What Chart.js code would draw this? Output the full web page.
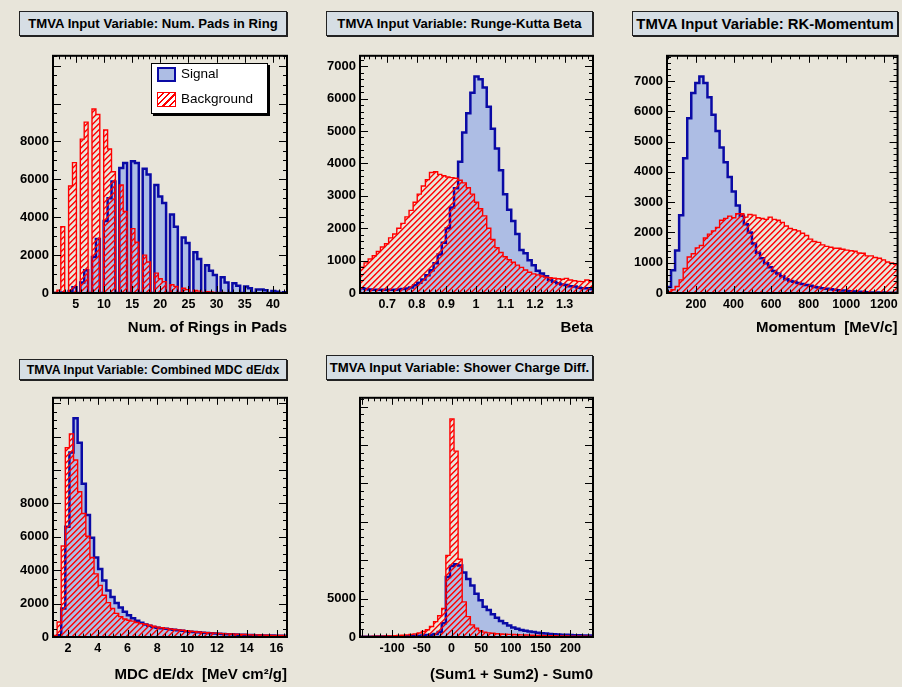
<!DOCTYPE html>
<html lang="en">
<head>
<meta charset="UTF-8">
<title>TMVA Input Variables</title>
<script src="https://cdn.jsdelivr.net/npm/chart.js"></script>
<style>
    html, body { margin: 0; padding: 0; }
    body {
        width: 902px; height: 687px; overflow: hidden; position: relative;
        background: #e8e5da;
        font-family: "Liberation Sans", Arial, Helvetica, sans-serif;
    }
    canvas { position: absolute; }
    /* ROOT style title boxes */
    .title-box {
        position: absolute; box-sizing: border-box;
        background: #d6dee4; border: 1px solid #222; box-shadow: 1px 1px 0 #222;
        display: flex; align-items: center; justify-content: center;
        font-weight: bold; color: #000; white-space: nowrap;
    }
    .legend {
        position: absolute; box-sizing: border-box; background: #fff;
        border: 1px solid #000; box-shadow: 2px 2px 0 #000;
        font-size: 13.5px; color: #000;
    }
    .legend .sw { position: absolute; width: 19px; height: 15px; box-sizing: border-box; }
    .legend .sig { background: #adbde4; border: 2px solid #0a0aa5; }
    .legend .bkg { border: 1px solid #f00;
        background: repeating-linear-gradient(135deg, transparent 0 3px, #f00 3px 4.5px); }
    .legend span { position: absolute; line-height: 16px; }
</style>
</head>
<body>
<div class="title-box" id="t1" style="left:19px;top:11px;width:268px;height:25px">TMVA Input Variable: Num. Pads in Ring</div>
<div class="title-box" id="t2" style="left:326px;top:11px;width:267px;height:25px">TMVA Input Variable: Runge-Kutta Beta</div>
<div class="title-box" id="t3" style="left:632px;top:11px;width:266px;height:25px">TMVA Input Variable: RK-Momentum</div>
<div class="title-box" id="t4" style="left:19px;top:359px;width:268px;height:21px">TMVA Input Variable: Combined MDC dE/dx</div>
<div class="title-box" id="t5" style="left:326px;top:355px;width:267px;height:25px">TMVA Input Variable: Shower Charge Diff.</div>

<canvas id="c1" width="300" height="301" style="left:0;top:44px"></canvas>
<canvas id="c2" width="300" height="301" style="left:307px;top:44px"></canvas>
<canvas id="c3" width="288" height="301" style="left:614px;top:44px"></canvas>
<canvas id="c4" width="300" height="301" style="left:0;top:386px"></canvas>
<canvas id="c5" width="300" height="301" style="left:307px;top:386px"></canvas>

<div class="legend" style="left:151px;top:63px;width:117px;height:51px">
    <div class="sw sig" style="left:5px;top:3px"></div><span style="left:29px;top:2px">Signal</span>
    <div class="sw bkg" style="left:5px;top:28px"></div><span style="left:29px;top:27px">Background</span>
</div>

<script>
// ---- histogram data (bin contents, equal-width bins over each range) ----
const padsRange = [0.95, 42.5];
const padsSignal = [0, 0, 20, 0, 100, 300, 0, 550, 1200, 0,
    1900, 2850, 0, 3800, 5000, 5880, 0, 6600, 6860, 0,
    6950, 6860, 0, 6560, 6250, 0, 5700, 5100, 4750, 0,
    4150, 3500, 0, 2930, 2640, 0, 2150, 1800, 0, 1470,
    1170, 950, 0, 830, 550, 0, 520, 380, 0, 340,
    255, 0, 190, 190, 150, 0, 100, 60, 0, 40];
const padsBackground = [30, 150, 3500, 0, 5650, 6880, 0, 8120, 9020, 0,
    9710, 9420, 0, 8600, 7600, 6400, 0, 5700, 4300, 0,
    3400, 2680, 0, 2000, 1640, 0, 1050, 750, 600, 0,
    440, 350, 0, 250, 180, 0, 130, 100, 0, 70,
    50, 35, 0, 25, 20, 0, 15, 10, 0, 8,
    5, 0, 4, 3, 2, 0, 1, 1, 0, 0];

const betaRange = [0.608, 1.396];
const betaSignal = [150, 120, 110, 100, 100, 100, 100, 100, 100, 110,
    120, 140, 170, 240, 320, 420, 550, 700, 920, 1190,
    1550, 2000, 2640, 3230, 4050, 4950, 5550, 6180, 6680, 6600,
    6340, 5750, 5070, 4460, 3790, 3050, 2570, 2220, 1820, 1330,
    1230, 1010, 860, 690, 600, 520, 400, 350, 300, 260,
    250, 210, 200, 160, 150, 150, 120];
const betaBackground = [800, 930, 1050, 1150, 1280, 1420, 1520, 1700, 1820, 2000,
    2150, 2350, 2550, 2800, 3050, 3300, 3500, 3720, 3740, 3660,
    3620, 3580, 3560, 3540, 3480, 3400, 3250, 3050, 2800, 2600,
    2380, 2000, 1650, 1400, 1250, 1120, 1030, 950, 860, 790,
    710, 640, 590, 560, 525, 490, 470, 455, 440, 425,
    450, 400, 380, 360, 350, 400, 350];

const momRange = [46, 1273];
const momSignal = [200, 750, 1400, 2570, 4450, 5770, 6600, 6930, 7150, 6930,
    6460, 5885, 5345, 4805, 4320, 3830, 3350, 2890, 2550, 2270,
    2000, 1630, 1330, 1150, 980, 850, 730, 640, 550, 450,
    400, 370, 330, 300, 260, 238, 200, 180, 160, 140,
    120, 108, 90, 80, 70, 55, 50, 40, 30, 25,
    20, 20, 15, 15, 10, 10, 10];
const momBackground = [40, 108, 216, 432, 810, 1188, 1296, 1490, 1566, 1814,
    1944, 2052, 2160, 2400, 2462, 2538, 2484, 2614, 2614, 2506,
    2592, 2570, 2484, 2462, 2430, 2506, 2430, 2400, 2330, 2210,
    2130, 2090, 2050, 1970, 1900, 1780, 1700, 1670, 1590, 1540,
    1510, 1475, 1475, 1445, 1415, 1395, 1380, 1320, 1310, 1225,
    1225, 1170, 1145, 1095, 1025, 990, 950];

const dedxRange = [1.0, 16.7];
const dedxSignal = [0, 100, 1700, 6600, 11050, 13100, 11640, 9180, 7310, 5940,
    4760, 4070, 3380, 2790, 2400, 2040, 1770, 1510, 1310, 1120,
    980, 850, 750, 670, 600, 550, 520, 490, 460, 430,
    400, 380, 350, 320, 300, 280, 260, 240, 225, 210,
    195, 180, 170, 160, 150, 140, 130, 125, 120, 110,
    100, 95, 90, 85, 80, 75, 70];
const dedxBackground = [100, 900, 5450, 11340, 12170, 10600, 8700, 7400, 6040, 4760,
    3780, 3090, 2500, 2060, 1710, 1415, 1220, 1080, 1000, 950,
    870, 800, 760, 700, 640, 590, 550, 515, 485, 455,
    425, 400, 370, 345, 320, 300, 280, 260, 245, 230,
    215, 200, 190, 180, 170, 160, 150, 140, 130, 125,
    120, 110, 105, 100, 95, 90, 85];

const showerRange = [-154, 238];
const showerSignal = [30, 30, 40, 40, 50, 50, 60, 70, 80, 90,
    100, 110, 130, 150, 170, 200, 250, 300, 400, 650,
    1790, 7800, 9250, 9480, 9300, 8400, 7560, 6700, 5640, 4780,
    3930, 3500, 2950, 2520, 2090, 1790, 1500, 1240, 1070, 900,
    800, 730, 640, 555, 500, 440, 384, 350, 320, 300,
    280, 250, 230, 213, 200, 190, 180];
const showerBackground = [60, 70, 80, 90, 100, 110, 130, 150, 170, 190,
    230, 280, 340, 400, 512, 726, 940, 1366, 2000, 2775,
    3715, 10630, 28400, 24200, 10120, 4570, 2650, 1580, 1150, 810,
    640, 540, 480, 430, 390, 360, 340, 320, 300, 280,
    260, 240, 220, 200, 190, 180, 170, 160, 150, 140,
    130, 120, 110, 100, 95, 90, 85];

const axisTitles = ['Num. of Rings in Pads', 'Beta', 'Momentum  [MeV/c]',
    'MDC dE/dx  [MeV cm\u00B2/g]', '(Sum1 + Sum2) - Sum0'];

// ---- helpers ----
const FONT = '"Liberation Sans", Arial, Helvetica, sans-serif';

function tickValues(min, max, step) {
    const out = [];
    for (let i = Math.ceil(min / step - 1e-9); i * step <= max + 1e-9; i++) {
        out.push(+(i * step).toFixed(6));
    }
    return out;
}

// turn bin contents into the corner points of a ROOT style step outline
function histPoints(range, values) {
    const w = (range[1] - range[0]) / values.length;
    const pts = [{ x: range[0], y: 0 }];
    values.forEach((v, i) => pts.push({ x: range[0] + i * w, y: v }));
    pts.push({ x: range[1], y: values[values.length - 1] });
    pts.push({ x: range[1], y: 0 });
    return pts;
}

// red "/" hatching under a stepped dataset, clipped to its outline
const hatchFill = {
    id: 'hatchFill',
    beforeDatasetDraw(chart, args) {
        const ds = chart.data.datasets[args.index];
        if (!ds.hatch) return;
        const pts = args.meta.data;
        const a = chart.chartArea;
        const ctx = chart.ctx;
        ctx.save();
        ctx.beginPath();
        ctx.rect(a.left, a.top, a.right - a.left, a.bottom - a.top);
        ctx.clip();
        ctx.beginPath();
        ctx.moveTo(pts[0].x, pts[0].y);
        for (let i = 1; i < pts.length; i++) {
            ctx.lineTo(pts[i].x, pts[i - 1].y);
            ctx.lineTo(pts[i].x, pts[i].y);
        }
        ctx.closePath();
        ctx.clip();
        ctx.strokeStyle = ds.hatch;
        ctx.lineWidth = 1.4;
        ctx.beginPath();
        const h = a.bottom - a.top;
        for (let c = a.left - h; c < a.right; c += 6) {
            ctx.moveTo(c, a.bottom);
            ctx.lineTo(c + h, a.top);
        }
        ctx.stroke();
        ctx.restore();
    }
};

// frame + inward ticks on all four sides, like a ROOT pad
const rootFrame = {
    id: 'rootFrame',
    afterDatasetsDraw(chart, args, o) {
        const { ctx, chartArea: a } = chart;
        const sx = chart.scales.x, sy = chart.scales.y;
        ctx.save();
        ctx.strokeStyle = '#000';
        ctx.lineWidth = 1;
        ctx.beginPath();
        tickValues(sx.min, sx.max, o.xMinor).forEach(v => {
            const p = Math.round(sx.getPixelForValue(v)) + 0.5;
            const major = Math.abs(v / o.xMajor - Math.round(v / o.xMajor)) < 1e-6;
            const len = major ? 7 : 3.5;
            ctx.moveTo(p, a.bottom); ctx.lineTo(p, a.bottom - len);
            ctx.moveTo(p, a.top); ctx.lineTo(p, a.top + len);
        });
        tickValues(sy.min, sy.max, o.yMinor).forEach(v => {
            const p = Math.round(sy.getPixelForValue(v)) + 0.5;
            const major = Math.abs(v / o.yMajor - Math.round(v / o.yMajor)) < 1e-6;
            const len = major ? 8 : 4;
            ctx.moveTo(a.left, p); ctx.lineTo(a.left + len, p);
            ctx.moveTo(a.right, p); ctx.lineTo(a.right - len, p);
        });
        ctx.stroke();
        ctx.lineWidth = 2;
        ctx.strokeRect(a.left, a.top, a.right - a.left, a.bottom - a.top);
        ctx.restore();
    }
};

function makePanel(p) {
    return new Chart(document.getElementById(p.id), {
        type: 'line',
        data: {
            datasets: [
                {
                    label: 'Background',
                    data: histPoints(p.range, p.bkg),
                    stepped: true,
                    borderColor: '#ff0000',
                    borderWidth: 1.4,
                    hatch: '#ff0000',
                    fill: false,
                    pointRadius: 0
                },
                {
                    label: 'Signal',
                    data: histPoints(p.range, p.sig),
                    stepped: true,
                    borderColor: '#0a0aa5',
                    borderWidth: 2.5,
                    backgroundColor: '#adbde4',
                    fill: 'origin',
                    pointRadius: 0
                }
            ]
        },
        options: {
            responsive: false,
            animation: false,
            devicePixelRatio: 1,
            layout: { padding: { top: 8, right: p.padRight, left: 0, bottom: 0 } },
            plugins: {
                legend: { display: false },
                tooltip: { enabled: false },
                rootFrame: { xMajor: p.xMajor, xMinor: p.xMinor, yMajor: p.yMajor, yMinor: p.yMinor }
            },
            scales: {
                x: {
                    type: 'linear',
                    min: p.range[0], max: p.range[1],
                    grid: { display: false, drawTicks: false },
                    border: { display: false },
                    afterBuildTicks: ax => { ax.ticks = tickValues(ax.min, ax.max, p.xMajor).map(v => ({ value: v })); },
                    afterFit: ax => { ax.height = p.xHeight; },
                    ticks: {
                        autoSkip: false, maxRotation: 0, minRotation: 0, padding: 4,
                        color: '#000',
                        font: { family: FONT, size: 12.5, weight: 'bold' },
                        callback: v => (p.xHide && p.xHide(v)) ? '' : String(+v.toFixed(2))
                    },
                    title: {
                        display: true, text: p.title, align: 'end', color: '#000',
                        font: { family: FONT, size: 15, weight: 'bold' },
                        padding: { top: 0, bottom: p.titlePad }
                    }
                },
                y: {
                    type: 'linear',
                    min: 0, max: p.yMax,
                    grid: { display: false, drawTicks: false },
                    border: { display: false },
                    afterBuildTicks: ax => { ax.ticks = tickValues(0, ax.max, p.yMajor).map(v => ({ value: v })); },
                    afterFit: ax => { ax.width = 53; },
                    ticks: {
                        autoSkip: false, padding: 4, color: '#000',
                        font: { family: FONT, size: 13, weight: 'bold' },
                        callback: v => v >= 10000 ? '' : String(v)
                    }
                }
            }
        },
        plugins: [hatchFill, rootFrame]
    });
}

makePanel({ id: 'c1', range: padsRange, sig: padsSignal, bkg: padsBackground, yMax: 12520,
    xMajor: 5, xMinor: 1, yMajor: 2000, yMinor: 500, padRight: 13, xHeight: 52, titlePad: 8,
    title: axisTitles[0] });
makePanel({ id: 'c2', range: betaRange, sig: betaSignal, bkg: betaBackground, yMax: 7320,
    xMajor: 0.1, xMinor: 0.02, yMajor: 1000, yMinor: 200, padRight: 14, xHeight: 52, titlePad: 8,
    title: axisTitles[1] });
makePanel({ id: 'c3', range: momRange, sig: momSignal, bkg: momBackground, yMax: 7830,
    xMajor: 200, xMinor: 50, yMajor: 1000, yMinor: 200, padRight: 4, xHeight: 52, titlePad: 8,
    title: axisTitles[2] });
makePanel({ id: 'c4', range: dedxRange, sig: dedxSignal, bkg: dedxBackground, yMax: 14330,
    xMajor: 2, xMinor: 0.5, yMajor: 2000, yMinor: 500, padRight: 13, xHeight: 50, titlePad: 3,
    title: axisTitles[3] });
makePanel({ id: 'c5', range: showerRange, sig: showerSignal, bkg: showerBackground, yMax: 31150,
    xMajor: 50, xMinor: 10, yMajor: 5000, yMinor: 1000, padRight: 14, xHeight: 50, titlePad: 3,
    title: axisTitles[4], xHide: v => v < -120 });

// size each title text so that it fills its box like ROOT does
const titleWidths = { t1: 250, t2: 245, t3: 258, t4: 253, t5: 260 };
const mctx = document.createElement('canvas').getContext('2d');
Object.keys(titleWidths).forEach(id => {
    const el = document.getElementById(id);
    mctx.font = 'bold 20px ' + FONT;
    const w = mctx.measureText(el.textContent).width;
    el.style.fontSize = (20 * titleWidths[id] / w).toFixed(2) + 'px';
});
</script>
</body>
</html>
